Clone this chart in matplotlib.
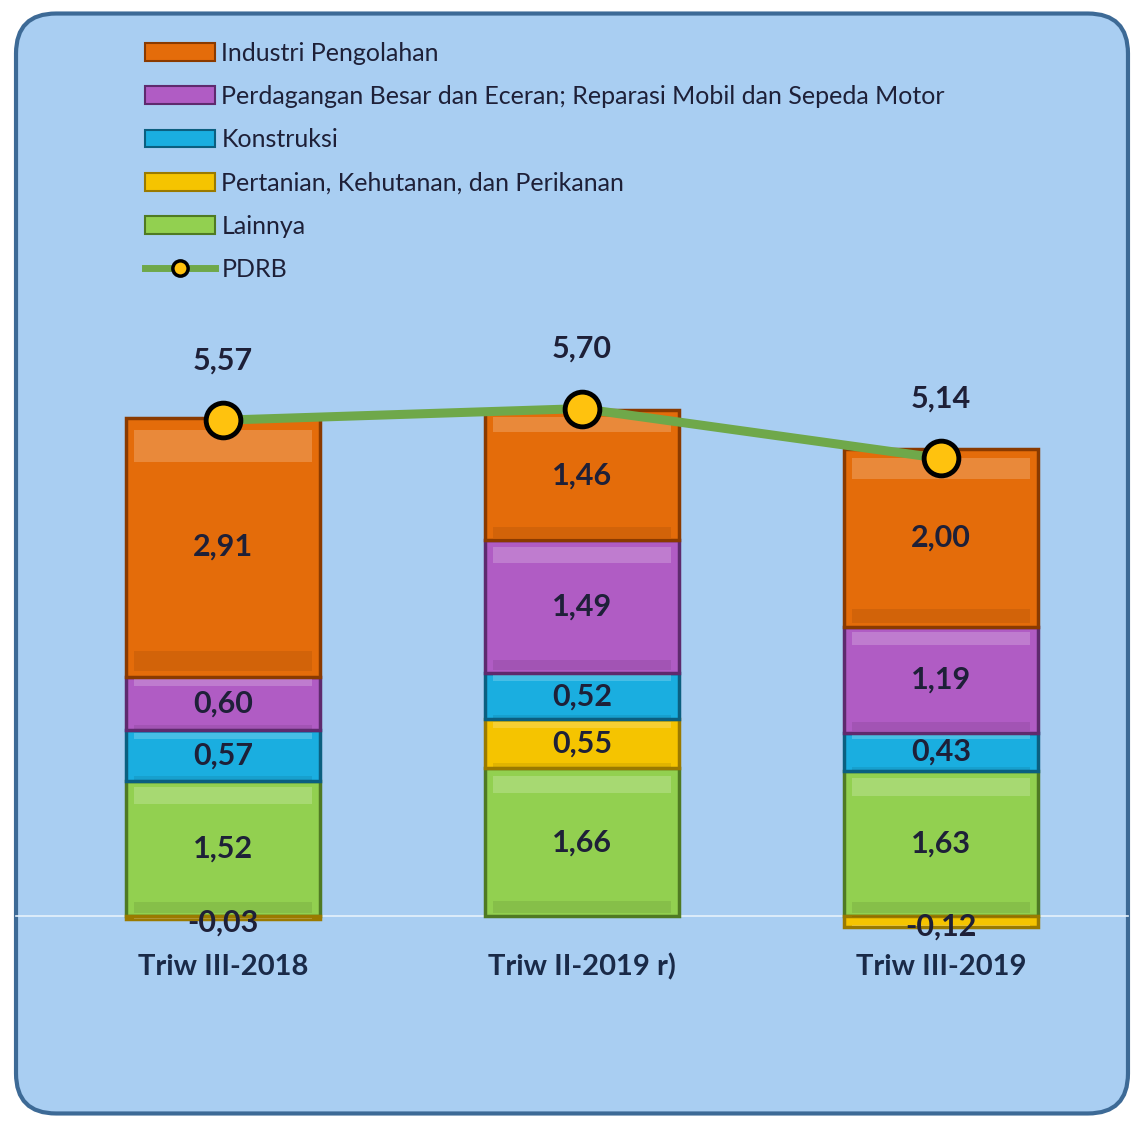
import matplotlib.pyplot as plt
import numpy as np
from matplotlib.patches import FancyBboxPatch, Patch
from matplotlib.lines import Line2D

categories = ["Triw III-2018", "Triw II-2019 r)", "Triw III-2019"]
lainnya = [1.52, 1.66, 1.63]
pertanian = [-0.03, 0.55, -0.12]
konstruksi = [0.57, 0.52, 0.43]
perdagangan = [0.60, 1.49, 1.19]
industri = [2.91, 1.46, 2.00]
pdrb = [5.57, 5.70, 5.14]
legend_items = ["Industri Pengolahan",
                "Perdagangan Besar dan Eceran; Reparasi Mobil dan Sepeda Motor",
                "Konstruksi", "Pertanian, Kehutanan, dan Perikanan", "Lainnya",
                "PDRB"]

# stacking order bottom -> top
colors = ["#92d050", "#f5c400", "#1aaee0", "#b05cc4", "#e46c0a"]
edges = ["#4f7a23", "#9a7a00", "#0b5f80", "#5e2a6e", "#8a3a00"]
txt = "#1e2038"

plt.rcParams["font.family"] = ["Lato", "DejaVu Sans"]

fig = plt.figure(figsize=(11.44, 11.27), dpi=100)
fig.patch.set_facecolor("white")
box = FancyBboxPatch((0.014, 0.012), 0.972, 0.976, transform=fig.transFigure,
                     boxstyle="round,pad=0,rounding_size=0.035",
                     facecolor="#a9cef2", edgecolor="#3d6a96", linewidth=3,
                     mutation_aspect=1144 / 1127, zorder=-5)
fig.patches.append(box)

ax = fig.add_axes([0, 0, 1, 1])
ax.set_facecolor("none")
ax.set_xlim(-0.621, 2.565)
ax.set_ylim(-2.37, 10.29)
ax.axis("off")

x = np.arange(len(categories))
width = 0.54
series = [lainnya, pertanian, konstruksi, perdagangan, industri]

ax.axhline(0, xmin=0.014, xmax=0.986, color="#e6f1fb", linewidth=1.2, zorder=1)

pos_base = np.zeros(len(x))
neg_base = np.zeros(len(x))
for vals, c, ec in zip(series, colors, edges):
    vals = np.array(vals)
    bottoms = np.where(vals >= 0, pos_base, neg_base)
    ax.bar(x, vals, width, bottom=bottoms, color=c, edgecolor=ec,
           linewidth=2.5, zorder=2)
    # bevel-like highlight near the top and shade near the bottom
    ax.bar(x, vals * 0.12, width * 0.92, bottom=bottoms + vals * 0.83,
           color="white", alpha=0.2, linewidth=0, zorder=3)
    ax.bar(x, vals * 0.08, width * 0.92, bottom=bottoms + vals * 0.02,
           color="black", alpha=0.08, linewidth=0, zorder=3)
    for xi, b, v in zip(x, bottoms, vals):
        yc = b + v / 2
        if v < 0:
            yc = v / 2 - 0.06
        ax.text(xi, yc, f"{v:.2f}".replace(".", ","), ha="center",
                va="center", fontsize=22, fontweight="bold", color=txt,
                zorder=6)
    pos_base = pos_base + np.where(vals >= 0, vals, 0)
    neg_base = neg_base + np.where(vals < 0, vals, 0)

ax.plot(x, pdrb, color="#6fa84a", linewidth=6.5, zorder=4,
        marker="o", markersize=25, markerfacecolor="#ffc20e",
        markeredgecolor="black", markeredgewidth=3.5)
for xi, v in zip(x, pdrb):
    ax.annotate(f"{v:.2f}".replace(".", ","), (xi, v), xytext=(0, 43),
                textcoords="offset points", ha="center", va="center",
                fontsize=22, fontweight="bold", color=txt, zorder=6)

for xi, cat in zip(x, categories):
    ax.text(xi, -0.57, cat, ha="center", va="center", fontsize=21,
            fontweight="bold", color="#1a2a48")

handles = [Patch(facecolor=c, edgecolor=ec, linewidth=1.5)
           for c, ec in zip(colors[::-1], edges[::-1])]
handles.append(Line2D([], [], color="#6fa84a", linewidth=5, marker="o",
                      markersize=11, markerfacecolor="#ffc20e",
                      markeredgecolor="black", markeredgewidth=2.5))
ax.legend(handles, legend_items, loc="upper left",
          bbox_to_anchor=(145 / 1144, 0.963), frameon=False, fontsize=18,
          borderpad=0, borderaxespad=0,
          handlelength=2.8, handleheight=0.72, handletextpad=0.25,
          labelspacing=0.81, labelcolor=txt)

fig.savefig("out.png", dpi=100)
